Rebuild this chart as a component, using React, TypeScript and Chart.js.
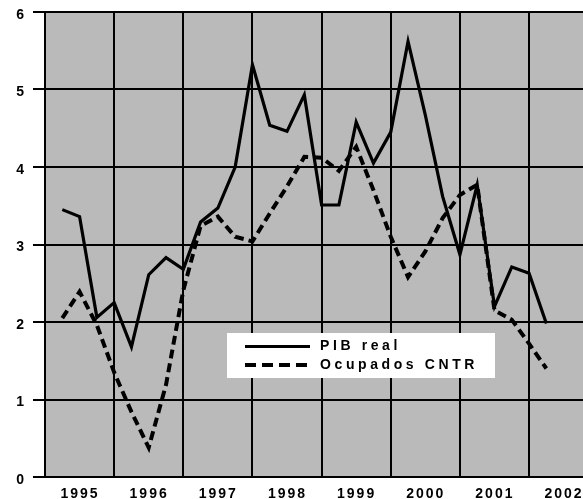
import React, { useEffect, useRef } from "react";
import { Chart, registerables } from "chart.js";

Chart.register(...registerables);

// Quarter labels (year-quarter); points sit at the end of each quarter
const quarterLabels = [
  "1995-1", "1995-2", "1995-3", "1995-4",
  "1996-1", "1996-2", "1996-3", "1996-4",
  "1997-1", "1997-2", "1997-3", "1997-4",
  "1998-1", "1998-2", "1998-3", "1998-4",
  "1999-1", "1999-2", "1999-3", "1999-4",
  "2000-1", "2000-2", "2000-3", "2000-4",
  "2001-1", "2001-2", "2001-3", "2001-4",
  "2002-1",
];

const pibReal = [
  3.45, 3.36, 2.06, 2.25,
  1.68, 2.61, 2.83, 2.68,
  3.29, 3.47, 4.0, 5.32,
  4.54, 4.46, 4.93, 3.51,
  3.51, 4.58, 4.05, 4.45,
  5.62, 4.67, 3.62, 2.87,
  3.77, 2.2, 2.71, 2.63,
  1.98,
];

const ocupadosCNTR = [
  2.05, 2.39, 1.96, 1.35,
  0.84, 0.38, 1.19, 2.41,
  3.24, 3.36, 3.1, 3.04,
  3.4, 3.75, 4.13, 4.12,
  3.95, 4.26, 3.7, 3.1,
  2.58, 2.91, 3.34, 3.64,
  3.77, 2.15, 2.03, 1.72,
  1.4,
];

const yearTicks = [1995, 1996, 1997, 1998, 1999, 2000, 2001, 2002];
const yTicks = [0, 1, 2, 3, 4, 5, 6];
const seriesNames = ["PIB real", "Ocupados CNTR"];

const X_MIN = 1995;
const X_MAX = 2002.78;

function quarterToX(label: string): number {
  const [y, q] = label.split("-");
  return Number(y) + Number(q) / 4;
}

const FONT_FAMILY = "'Liberation Sans', Arial, sans-serif";

export default function App() {
  const canvasRef = useRef<HTMLCanvasElement | null>(null);

  useEffect(() => {
    document.body.style.margin = "0";
    const canvas = canvasRef.current;
    if (!canvas) return;

    const spacingPlugin = {
      id: "spacing",
      beforeUpdate(chart: any) {
        chart.ctx.letterSpacing = "2px";
      },
      beforeDraw(chart: any) {
        chart.ctx.letterSpacing = "2px";
        const { ctx, chartArea } = chart;
        ctx.save();
        ctx.fillStyle = "#bababa";
        ctx.fillRect(
          chartArea.left,
          chartArea.top,
          chartArea.right - chartArea.left,
          chartArea.bottom - chartArea.top
        );
        ctx.restore();
      },
    };

    const legendPlugin = {
      id: "boxLegend",
      afterDraw(chart: any) {
        const { ctx, chartArea } = chart;
        const left = chartArea.left + 182;
        const top = chartArea.top + 321;
        ctx.save();
        ctx.fillStyle = "#ffffff";
        ctx.fillRect(left, top, 268, 45);
        ctx.strokeStyle = "#000";
        ctx.lineCap = "butt";
        // solid sample
        ctx.lineWidth = 3;
        ctx.setLineDash([]);
        ctx.beginPath();
        ctx.moveTo(left + 18, top + 13.5);
        ctx.lineTo(left + 83, top + 13.5);
        ctx.stroke();
        // dashed sample
        ctx.lineWidth = 4;
        ctx.setLineDash([11, 6]);
        ctx.beginPath();
        ctx.moveTo(left + 18, top + 32);
        ctx.lineTo(left + 85, top + 32);
        ctx.stroke();
        ctx.setLineDash([]);
        ctx.fillStyle = "#000";
        ctx.font = `bold 14px ${FONT_FAMILY}`;
        (ctx as any).letterSpacing = "3.6px";
        ctx.textBaseline = "middle";
        ctx.textAlign = "left";
        ctx.fillText(seriesNames[0], left + 93, top + 13.5);
        ctx.fillText(seriesNames[1], left + 93, top + 32);
        ctx.restore();
      },
    };

    const chart = new Chart(canvas, {
      type: "line",
      data: {
        datasets: [
          {
            label: seriesNames[0],
            data: pibReal.map((v, i) => ({ x: quarterToX(quarterLabels[i]), y: v })),
            borderColor: "#000",
            borderWidth: 3.2,
            pointRadius: 0,
            tension: 0,
            fill: false,
          },
          {
            label: seriesNames[1],
            data: ocupadosCNTR.map((v, i) => ({ x: quarterToX(quarterLabels[i]), y: v })),
            borderColor: "#000",
            borderWidth: 4,
            borderDash: [9, 5],
            pointRadius: 0,
            tension: 0,
            fill: false,
          },
        ],
      },
      options: {
        responsive: false,
        animation: false,
        layout: { padding: { top: 12, right: 0, left: 0, bottom: 0 } },
        plugins: {
          legend: { display: false },
          tooltip: { enabled: false },
        },
        scales: {
          x: {
            type: "linear",
            min: X_MIN,
            max: X_MAX,
            afterBuildTicks: (axis: any) => {
              axis.ticks = yearTicks.map((v) => ({ value: v }));
            },
            afterFit: (s: any) => {
              s.height = 22;
              s.paddingLeft = 0;
              s.paddingRight = 0;
            },
            grid: { color: "#000", lineWidth: 2, drawTicks: false },
            border: { display: false },
            ticks: {
              autoSkip: false,
              maxRotation: 0,
              labelOffset: 35,
              padding: 9,
              color: "#000",
              font: { family: FONT_FAMILY, size: 14, weight: "bold" },
              callback: (v: any) => String(v),
            },
          },
          y: {
            type: "linear",
            min: 0,
            max: 6,
            afterBuildTicks: (axis: any) => {
              axis.ticks = yTicks.map((v) => ({ value: v }));
            },
            afterFit: (s: any) => {
              s.width = 45;
              s.paddingTop = 0;
              s.paddingBottom = 0;
            },
            grid: { color: "#000", lineWidth: 2, tickLength: 12 },
            border: { display: true, color: "#000", width: 2 },
            ticks: {
              padding: 7,
              labelOffset: 3,
              color: "#000",
              font: { family: FONT_FAMILY, size: 14, weight: "bold" },
              callback: (v: any) => String(v),
            },
          },
        },
      },
      plugins: [spacingPlugin, legendPlugin],
    } as any);

    return () => chart.destroy();
  }, []);

  return (
    <div style={{ position: "fixed", left: 0, top: 0, width: 583, height: 499, background: "#fff" }}>
      <canvas ref={canvasRef} width={583} height={499} style={{ width: 583, height: 499, display: "block" }} />
    </div>
  );
}
